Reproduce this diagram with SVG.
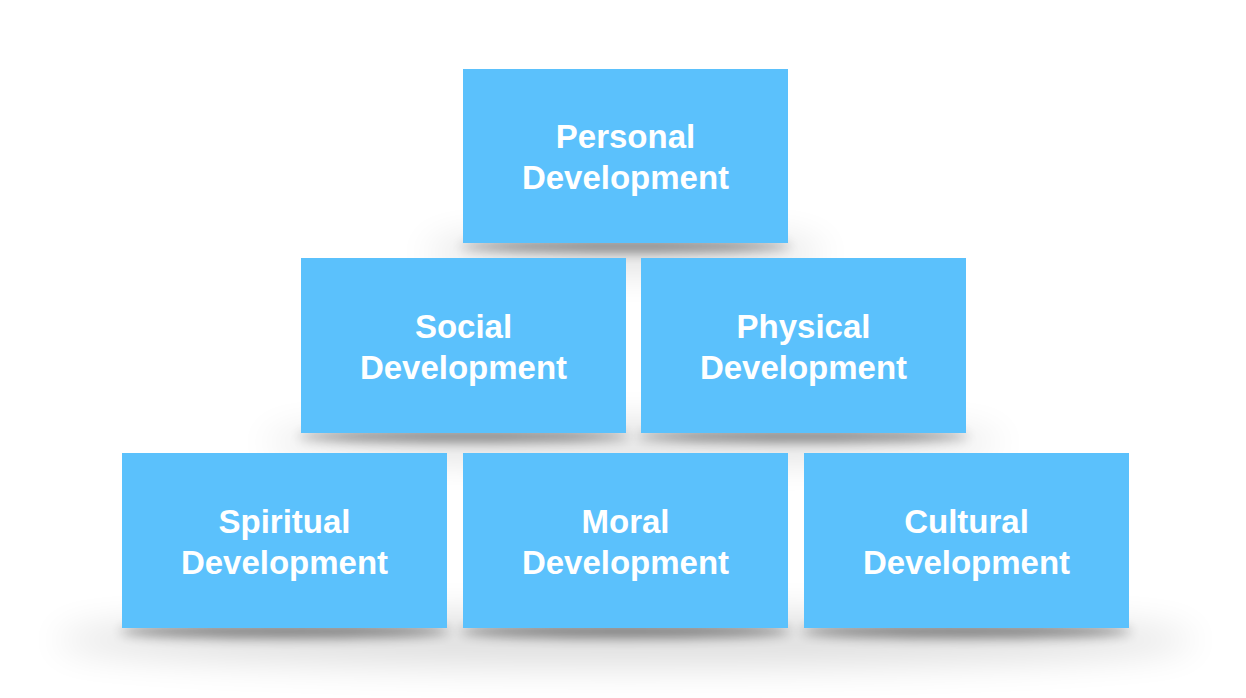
<svg xmlns="http://www.w3.org/2000/svg" width="1246" height="698" viewBox="0 0 1246 698">
<style>
.box{fill:#5bc1fc}
.lbl{font-family:"Liberation Sans",Arial,sans-serif;font-weight:bold;font-size:33px;fill:#ffffff;text-anchor:middle}
.sh1{fill:#000;opacity:0.13;filter:url(#blurWide)}
.sh2{fill:#000;opacity:0.45;filter:url(#blurTight)}
</style>
<defs>
<filter id="blurWide" x="-50%" y="-200%" width="200%" height="500%"><feGaussianBlur stdDeviation="18"/></filter>
<filter id="blurTight" x="-50%" y="-200%" width="200%" height="500%"><feGaussianBlur stdDeviation="6"/></filter>
</defs>
<rect width="1246" height="698" fill="#ffffff"/>
<g id="shadows">
<ellipse class="sh1" cx="625.5" cy="252" rx="200" ry="18"/>
<ellipse class="sh2" cx="625.5" cy="246" rx="165" ry="6"/>
<ellipse class="sh1" cx="633.5" cy="442" rx="370" ry="18"/>
<ellipse class="sh2" cx="463.5" cy="436" rx="165" ry="6"/>
<ellipse class="sh2" cx="803.5" cy="436" rx="165" ry="6"/>
<ellipse class="sh1" cx="625.5" cy="640" rx="570" ry="26"/>
<ellipse class="sh2" cx="284.5" cy="631" rx="165" ry="7"/>
<ellipse class="sh2" cx="625.5" cy="631" rx="165" ry="7"/>
<ellipse class="sh2" cx="966.5" cy="631" rx="165" ry="7"/>
</g>
<g id="connectors"></g>
<g id="personal"><rect class="box" x="463" y="69" width="325" height="174"/><text class="lbl" x="625.5" y="148">Personal</text><text class="lbl" x="625.5" y="189">Development</text></g>
<g id="social"><rect class="box" x="301" y="258" width="325" height="175"/><text class="lbl" x="463.5" y="338">Social</text><text class="lbl" x="463.5" y="379">Development</text></g>
<g id="physical"><rect class="box" x="641" y="258" width="325" height="175"/><text class="lbl" x="803.5" y="338">Physical</text><text class="lbl" x="803.5" y="379">Development</text></g>
<g id="spiritual"><rect class="box" x="122" y="453" width="325" height="175"/><text class="lbl" x="284.5" y="533">Spiritual</text><text class="lbl" x="284.5" y="574">Development</text></g>
<g id="moral"><rect class="box" x="463" y="453" width="325" height="175"/><text class="lbl" x="625.5" y="533">Moral</text><text class="lbl" x="625.5" y="574">Development</text></g>
<g id="cultural"><rect class="box" x="804" y="453" width="325" height="175"/><text class="lbl" x="966.5" y="533">Cultural</text><text class="lbl" x="966.5" y="574">Development</text></g>
</svg>
